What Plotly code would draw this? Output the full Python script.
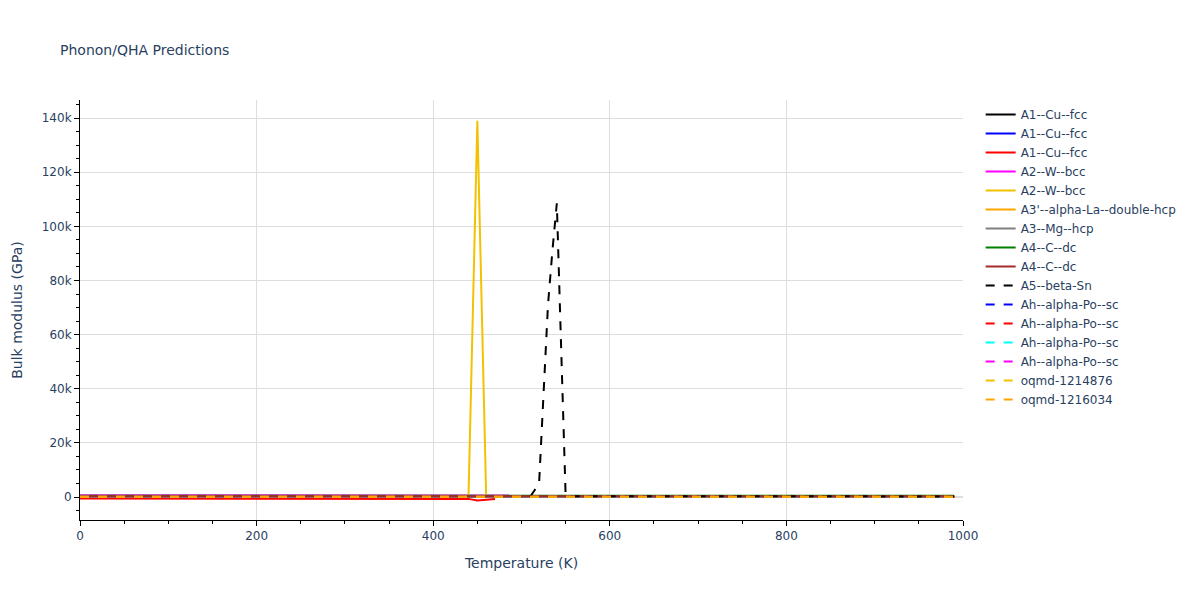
import plotly.graph_objects as go

# ---- data ----
temps_coarse = [0, 100, 200, 300, 400, 500, 600, 700, 800, 900, 990]

cu_black_vals = [142, 141, 139, 137, 135, 133, 131, 129, 127, 125, 123]
cu_blue_vals = [138, 137, 135, 133, 131, 129, 127, 125, 123, 121, 119]

cu_red_temps = [0, 100, 200, 300, 400, 440, 450, 460, 470]
cu_red_vals = [-560, -570, -580, -600, -620, -700, -1300, -1100, -700]

w_mag_vals = [620, 615, 610, 605, 600, 595, 590, 585, 580, 575, 570]

w_gold_temps = [0, 100, 200, 300, 400, 440, 450, 460, 500, 600, 700, 800, 900, 990]
w_gold_vals = [310, 308, 305, 302, 299, 297, 139000, 296, 294, 290, 286, 282, 278, 274]

la_vals = [25, 25, 24, 24, 23, 23, 22, 22, 21, 21, 20]
mg_vals = [36, 35, 35, 34, 33, 32, 31, 30, 29, 28, 27]
c_green_vals = [440, 439, 438, 437, 435, 433, 431, 429, 427, 425, 423]
c_brown_vals = [300, 299, 298, 297, 296, 295, 294, 293, 292, 291, 290]

sn_temps = [510, 515, 520, 525, 530, 535, 540, 545, 550, 600, 700, 800, 900, 990]
sn_vals = [200, 2600, 5600, 37000, 71000, 91000, 108500, 54000, 300, 260, 250, 240, 230, 220]

po_blue_vals = [46, 45, 45, 44, 44, 43, 43, 42, 42, 41, 41]
po_red_vals = [48, 47, 47, 46, 46, 45, 45, 44, 44, 43, 43]
po_cyan_vals = [44, 44, 43, 43, 42, 42, 41, 41, 40, 40, 39]
po_mag_vals = [50, 49, 49, 48, 48, 47, 47, 46, 46, 45, 45]

oqmd1_vals = [105, 104, 103, 102, 101, 100, 99, 98, 97, 96, 95]
oqmd2_vals = [110, 109, 108, 107, 106, 105, 104, 103, 102, 101, 100]

GOLD = "#F2C200"

series = [
    ("A1--Cu--fcc", temps_coarse, cu_black_vals, "black", "solid"),
    ("A1--Cu--fcc", temps_coarse, cu_blue_vals, "blue", "solid"),
    ("A1--Cu--fcc", cu_red_temps, cu_red_vals, "red", "solid"),
    ("A2--W--bcc", temps_coarse, w_mag_vals, "magenta", "solid"),
    ("A2--W--bcc", w_gold_temps, w_gold_vals, GOLD, "solid"),
    ("A3'--alpha-La--double-hcp", temps_coarse, la_vals, "orange", "solid"),
    ("A3--Mg--hcp", temps_coarse, mg_vals, "gray", "solid"),
    ("A4--C--dc", temps_coarse, c_green_vals, "green", "solid"),
    ("A4--C--dc", temps_coarse, c_brown_vals, "brown", "solid"),
    ("A5--beta-Sn", sn_temps, sn_vals, "black", "dash"),
    ("Ah--alpha-Po--sc", temps_coarse, po_blue_vals, "blue", "dash"),
    ("Ah--alpha-Po--sc", temps_coarse, po_red_vals, "red", "dash"),
    ("Ah--alpha-Po--sc", temps_coarse, po_cyan_vals, "cyan", "dash"),
    ("Ah--alpha-Po--sc", temps_coarse, po_mag_vals, "magenta", "dash"),
    ("oqmd-1214876", temps_coarse, oqmd1_vals, GOLD, "dash"),
    ("oqmd-1216034", temps_coarse, oqmd2_vals, "orange", "dash"),
]

fig = go.Figure()
for name, xs, ys, color, dash in series:
    fig.add_trace(go.Scatter(x=xs, y=ys, mode="lines", name=name,
                             line=dict(color=color, dash=dash, width=2)))

axis_common = dict(
    showline=True, linecolor="black", linewidth=1,
    ticks="outside", tickcolor="black", ticklen=5,
    showgrid=True, gridcolor="#dddddd",
    zeroline=True, zerolinecolor="#dddddd",
)

fig.update_layout(
    font=dict(family="DejaVu Sans", size=12, color="#2a3f5f"),
    title=dict(text="Phonon/QHA Predictions", x=0.05, y=0.925,
               font=dict(size=14)),
    width=1200, height=600,
    plot_bgcolor="white", paper_bgcolor="white",
    xaxis=dict(title="Temperature (K)", range=[0, 1000], dtick=200,
               minor=dict(ticks="outside", dtick=50, tickcolor="black", ticklen=3),
               **axis_common),
    yaxis=dict(title="Bulk modulus (GPa)", range=[-8500, 146700], dtick=20000,
               minor=dict(ticks="outside", dtick=5000, tickcolor="black", ticklen=3),
               **axis_common),
    margin=dict(l=80, r=237, t=100, b=80),
    legend=dict(x=1.02, y=1),
)

fig.write_html("out.html",
               config={"displayModeBar": False},
               post_script="document.body.style.margin='0';")
